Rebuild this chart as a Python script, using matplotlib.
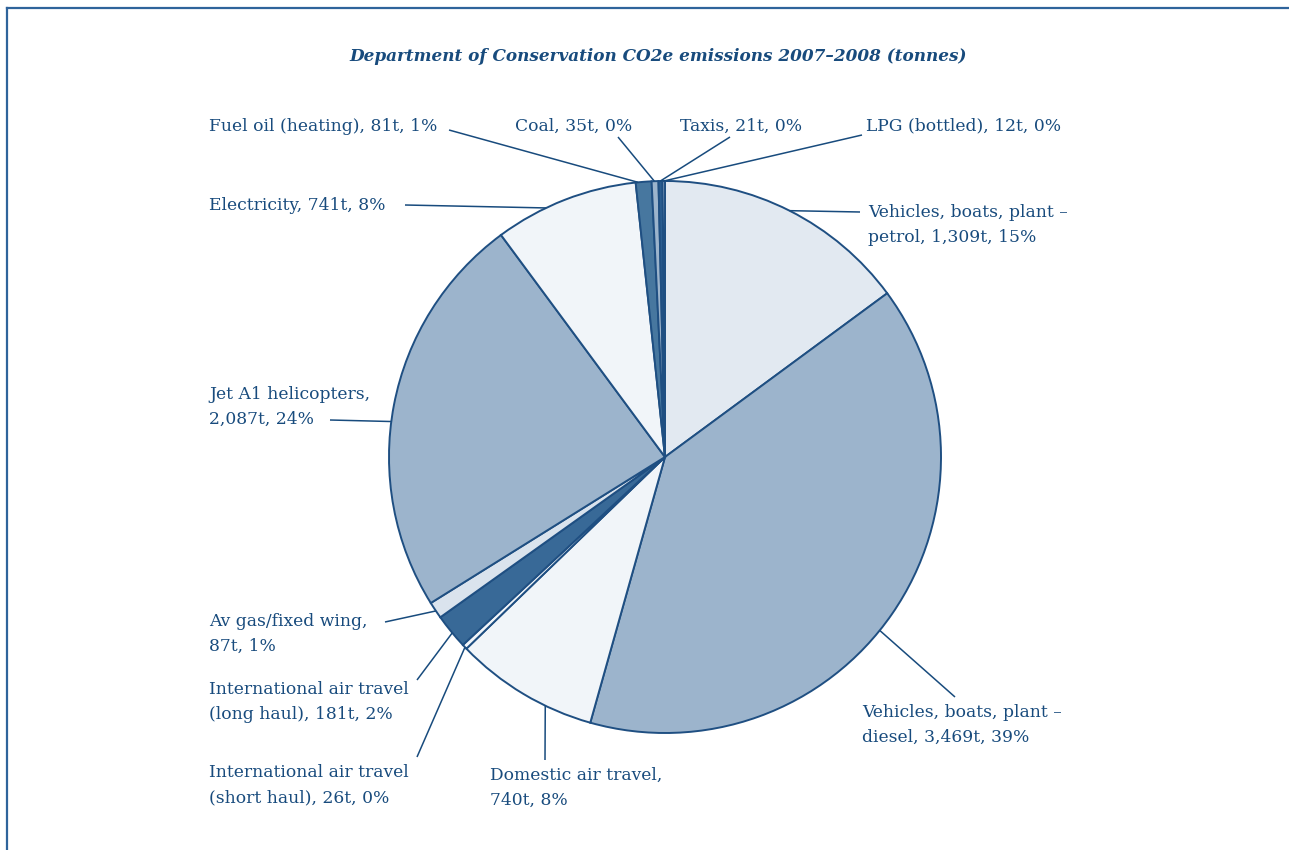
import numpy as np
import matplotlib
matplotlib.use("Agg")
import matplotlib.pyplot as plt

# Department of Conservation CO2e emissions 2007-2008, tonnes
sources = ["Vehicles, boats, plant \u2013\npetrol",
           "Vehicles, boats, plant \u2013\ndiesel",
           "Domestic air travel,\n",
           "International air travel\n(short haul)",
           "International air travel\n(long haul)",
           "Av gas/fixed wing,\n",
           "Jet A1 helicopters,\n",
           "Electricity",
           "Fuel oil (heating)",
           "Coal",
           "Taxis",
           "LPG (bottled)"]
tonnes = [1309, 3469, 740, 26, 181, 87, 2087, 741, 81, 35, 21, 12]
percent_labels = ["15%", "39%", "8%", "0%", "2%", "1%", "24%", "8%", "1%", "0%", "0%", "0%"]

fills = ["#e2e9f1", "#9cb4cc", "#f1f5f9", "#f1f5f9", "#386997", "#dae3ed",
         "#9cb4cc", "#f1f5f9", "#47779f", "#9cb4cc", "#2a5d90", "#e2e9f1"]

INK = "#184b7d"
EDGE = "#1f4f82"

# layout in pixel units (y measured from top of the picture)
W, H = 1289, 850
cx, cy, R = 665, 457, 276
# (text x, text block centre y, leader start x, leader start y, where along the wedge the leader ends)
label_pos = [
    (868, 225, 860, 212, 0.50),
    (862, 725, 955, 697, 0.53),
    (490, 788, 545, 760, 0.33),
    (209, 785, 417, 757, 0.40),
    (209, 702, 417, 680, 0.45),
    (209, 634, 385, 622, 0.45),
    (209, 407, 330, 420, 0.46),
    (209, 205, 405, 205, 0.36),
    (209, 126, 449, 130, 0.15),
    (515, 126, 618, 137, 0.40),
    (680, 126, 730, 137, 0.45),
    (866, 126, 862, 135, 0.50),
]


def fmt(name, t, p):
    if name.endswith("\n"):
        return f"{name}{t:,}t, {p}"
    return f"{name}, {t:,}t, {p}"


fig = plt.figure(figsize=(W / 100, H / 100), dpi=100)
ax = fig.add_axes([0, 0, 1, 1])

wedges, _ = ax.pie(tonnes, colors=fills, startangle=90, counterclock=False,
                   center=(cx, H - cy), radius=R, frame=True,
                   wedgeprops=dict(edgecolor=EDGE, linewidth=1.4))
ax.set_xlim(0, W)
ax.set_ylim(0, H)
ax.axis("off")

for w, name, t, p, (tx, ty, lx, ly, f) in zip(wedges, sources, tonnes, percent_labels, label_pos):
    # clockwise pie: walk from theta2 towards theta1
    ang = np.deg2rad(w.theta2 - f * (w.theta2 - w.theta1))
    ex = cx + R * np.cos(ang)
    ey = (H - cy) + R * np.sin(ang)
    ax.plot([lx, ex], [H - ly, ey], color=INK, lw=1.1, solid_capstyle="butt")
    ax.text(tx, H - ty, fmt(name, t, p), ha="left", va="center", color=INK,
            family="DejaVu Serif", fontsize=12.3, linespacing=1.62)

ax.text(658, H - 56, "Department of Conservation CO2e emissions 2007\u20132008 (tonnes)",
        ha="center", va="center", color=INK, family="DejaVu Serif",
        fontsize=12.2, fontstyle="italic", fontweight="bold")

# frame lines at top and left
ax.plot([7, W], [H - 8, H - 8], color="#2f649b", lw=1.6, clip_on=False)
ax.plot([7, 7], [H - 8, 0], color="#2f649b", lw=1.6, clip_on=False)

fig.savefig("out.png", dpi=100, facecolor="white")
